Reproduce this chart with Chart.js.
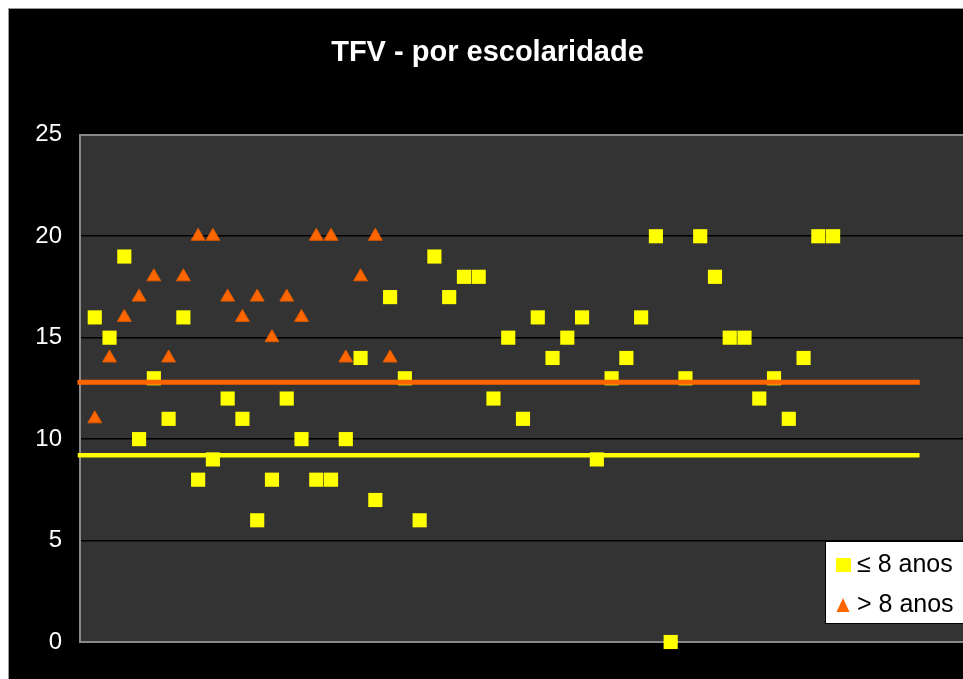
<!DOCTYPE html>
<html lang="pt">
<head>
  <meta charset="UTF-8" />
  <title>TFV - por escolaridade</title>
  <script src="https://cdn.jsdelivr.net/npm/chart.js@4.4.1/dist/chart.umd.min.js"></script>
  <style>
    html, body {
      margin: 0;
      padding: 0;
      background: #fff;
      width: 963px;
      height: 679px;
      overflow: hidden;
    }
    .frame {
      position: absolute;
      left: 8px;
      top: 8px;
      width: 962px;
      height: 700px;
      background: #000;
      border-top: 1px solid #999;
      border-left: 1px solid #999;
    }
    canvas { display: block; }
  </style>
</head>
<body>
  <div class="frame">
    <canvas id="tfvChart" width="962" height="700"></canvas>
  </div>

  <script>
    // values, one per subject (x = subject number)
    const lowSchooling = [16,15,19,10,13,11,16,8,9,12,11,6,8,12,10,8,8,10,14,7,17,13,6,19,17,18,18,12,15,11,16,14,15,16,9,13,14,16,20,0,13,20,18,15,15,12,13,11,14,20,20];
    const highSchooling = [11,14,16,17,18,14,18,20,20,17,16,17,15,17,16,20,20,14,18,20,14];
    const seriesNames = ['≤ 8 anos', '> 8 anos'];
    const seriesColors = ['#FFFF00', '#FF6600'];

    // the two horizontal reference lines (yellow, orange)
    const refLevels = [9.2, 12.8];
    const refSpan = [0, 56.7];

    const yTicks = [0, 5, 10, 15, 20, 25];
    const xRange = [0, 60];

    const FONT = "'Liberation Sans', Arial, sans-serif";

    const toPoints = arr => arr.map((v, i) => ({ x: i + 1, y: v }));
    const refLine = level => refSpan.map(x => ({ x: x, y: level }));
    const isEdge = c => c.tick && (c.tick.value === yTicks[0] || c.tick.value === yTicks[yTicks.length - 1]);

    // dark grey plot background
    const plotBg = {
      id: 'plotBg',
      beforeDraw(chart) {
        const a = chart.chartArea;
        const c = chart.ctx;
        c.save();
        c.fillStyle = '#333333';
        c.fillRect(a.left, a.top, a.right - a.left, a.bottom - a.top);
        c.restore();
      }
    };

    // legend box in the lower right corner of the plot
    const boxLegend = {
      id: 'boxLegend',
      afterDraw(chart) {
        const a = chart.chartArea;
        const c = chart.ctx;
        const left = a.right - 141, top = a.bottom - 101, bottom = a.bottom - 19;
        c.save();
        c.fillStyle = '#fff';
        c.fillRect(left, top, 160, bottom - top);
        c.strokeStyle = '#000';
        c.lineWidth = 1;
        c.strokeRect(left + 0.5, top + 0.5, 160, bottom - top);

        c.fillStyle = seriesColors[0];
        c.fillRect(left + 11, top + 17, 15, 14);
        c.fillStyle = seriesColors[1];
        c.beginPath();
        c.moveTo(left + 18, top + 57);
        c.lineTo(left + 24.5, top + 71);
        c.lineTo(left + 11.5, top + 71);
        c.closePath();
        c.fill();

        c.fillStyle = '#000';
        c.font = '25px ' + FONT;
        c.textAlign = 'left';
        c.textBaseline = 'alphabetic';
        c.fillText(seriesNames[0], left + 32, top + 31);
        c.fillText(seriesNames[1], left + 32, top + 71);
        c.restore();
      }
    };

    const chart = new Chart(document.getElementById('tfvChart'), {
      type: 'scatter',
      data: {
        datasets: [
          {
            type: 'line',
            label: 'ref baixa',
            data: refLine(refLevels[0]),
            borderColor: seriesColors[0],
            borderWidth: 4.5,
            borderCapStyle: 'square',
            pointRadius: 0,
            showLine: true,
            clip: false,
            order: 0
          },
          {
            type: 'line',
            label: 'ref alta',
            data: refLine(refLevels[1]),
            borderColor: seriesColors[1],
            borderWidth: 5,
            borderCapStyle: 'square',
            pointRadius: 0,
            showLine: true,
            clip: false,
            order: 0
          },
          {
            label: seriesNames[0],
            data: toPoints(lowSchooling),
            pointStyle: 'rect',
            pointRadius: 10,
            backgroundColor: seriesColors[0],
            pointBorderWidth: 0,
            clip: false,
            order: 2
          },
          {
            label: seriesNames[1],
            data: toPoints(highSchooling),
            pointStyle: 'triangle',
            pointRadius: 8,
            backgroundColor: seriesColors[1],
            borderColor: '#E05A00',
            pointBorderWidth: 1,
            clip: false,
            order: 1
          }
        ]
      },
      options: {
        responsive: false,
        animation: false,
        events: [],
        layout: {
          autoPadding: false,
          padding: { left: 0, right: 5, top: 0, bottom: 67 }
        },
        scales: {
          x: {
            type: 'linear',
            min: xRange[0],
            max: xRange[1],
            display: false
          },
          y: {
            min: yTicks[0],
            max: yTicks[yTicks.length - 1],
            afterBuildTicks: scale => { scale.ticks = yTicks.map(v => ({ value: v })); },
            afterFit: scale => { scale.width = 71; },
            grid: {
              drawTicks: false,
              color: c => isEdge(c) ? '#8a8a8a' : '#000',
              lineWidth: c => isEdge(c) ? 2 : 1.5
            },
            border: { display: true, color: '#8a8a8a', width: 2 },
            ticks: {
              color: '#fff',
              padding: 18,
              font: { family: FONT, size: 24 }
            }
          }
        },
        plugins: {
          legend: { display: false },
          tooltip: { enabled: false },
          title: {
            display: true,
            text: 'TFV - por escolaridade',
            color: '#fff',
            font: { family: FONT, size: 29, weight: 'bold', lineHeight: 1.2 },
            padding: { top: 27, bottom: 64 }
          }
        }
      },
      plugins: [plotBg, boxLegend]
    });
  </script>
</body>
</html>
